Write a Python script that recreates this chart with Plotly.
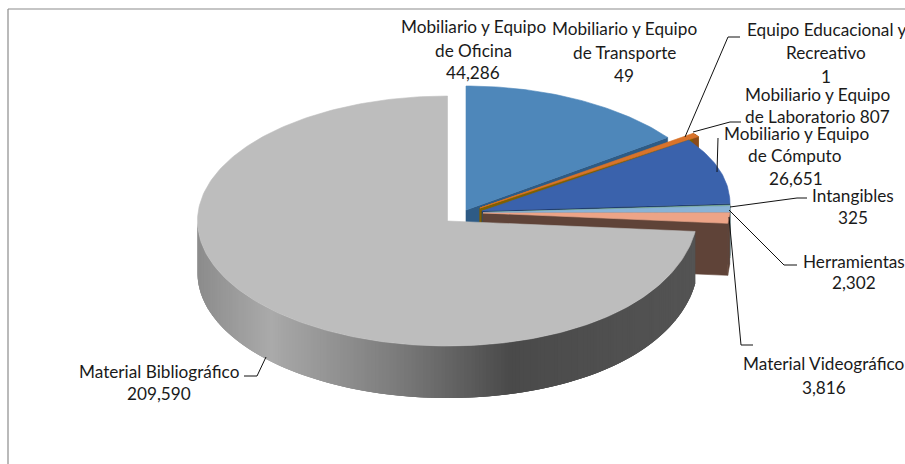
import math
import plotly.graph_objects as go

# ---------- data ----------
categories = ["Mobiliario y Equipo de Oficina", "Mobiliario y Equipo de Transporte",
              "Equipo Educacional y Recreativo", "Mobiliario y Equipo de Laboratorio",
              "Mobiliario y Equipo de Cómputo", "Intangibles", "Herramientas",
              "Material Videográfico", "Material Bibliográfico"]
values = [44286, 49, 1, 807, 26651, 325, 2302, 3816, 209590]

# ---------- slice styling / placement (pixel space of the chart) ----------
top_colors = ["#4E87BA", "#D9732A", "#D9732A", "#D9732A", "#3A62AC",
              "#7FB08F", "#8AB3D6", "#EDA487", "#BDBDBD"]
cut_colors = ["#2E5B85", "#7F6000", "#7F6000", "#7F6000", "#152F5C",
              "#3F6F55", "#4A6F90", "#5F4338", None]
arc_colors = [None, "#8B4A1A", "#8B4A1A", "#8B4A1A", None, None, None, "#5F4338", None]
apex_x = [466, 480, 480, 480, 482, 483, 483, 483, 447.5]
apex_y = [210, 208, 208, 208, 211, 212.5, 212.5, 213, 221]
radius_x = [245, 262, 262, 262, 248, 247, 247, 247, 250]
radius_y = [124, 125, 125, 125, 124, 124, 124, 124, 125]
# the perspective of the original opens the very thin slice a little
open_start_deg = [0, 0, 0, 1.0, 0, 0, 0, 0, 0]
DEPTH = 52
TILT = 7


def project(i, theta, drop=0):
    s, c = math.sin(theta), math.cos(theta)
    tilt = TILT * max(s, 0) ** 6
    return (apex_x[i] + radius_x[i] * s,
            apex_y[i] - radius_y[i] * c - tilt + drop)


def arc(i, a, b, drop=0):
    n = max(2, int(abs(b - a) / math.radians(1.0)) + 2)
    return [project(i, a + (b - a) * k / (n - 1), drop) for k in range(n)]


def poly(fig, pts, color, lw=0.6):
    fig.add_trace(go.Scatter(x=[p[0] for p in pts] + [pts[0][0]],
                             y=[p[1] for p in pts] + [pts[0][1]],
                             mode="lines", fill="toself", fillcolor=color,
                             line=dict(color=color, width=lw),
                             hoverinfo="skip", showlegend=False))


def gray_wall_color(x):
    stops = [(198, 140), (270, 170), (400, 122), (510, 74), (700, 84)]
    for (x0, v0), (x1, v1) in zip(stops, stops[1:]):
        if x <= x1:
            t = max(0, (x - x0) / (x1 - x0))
            v = round(v0 + (v1 - v0) * t)
            return f"rgb({v},{v},{v})"
    return "rgb(84,84,84)"


fig = go.Figure()
total = sum(values)
cum = 0
angles = []
for v in values:
    angles.append((cum / total * 2 * math.pi, (cum + v) / total * 2 * math.pi))
    cum += v

for i, (a, b) in enumerate(angles):
    a = a - math.radians(open_start_deg[i])
    if cut_colors[i]:
        e0, e1 = project(i, b), project(i, b, DEPTH)
        ap = (apex_x[i], apex_y[i])
        poly(fig, [ap, e0, e1, (ap[0], ap[1] + DEPTH)], cut_colors[i])
    if arc_colors[i]:
        poly(fig, arc(i, a, b) + arc(i, b, a, DEPTH), arc_colors[i])
    if i == len(values) - 1:
        # outer wall of the large slice, shaded along its length (left to right);
        # each strip runs on under the next one so that no seam shows
        start, end = 3 * math.pi / 2, a
        n = 200
        for k in range(n):
            t0 = start + (end - start) * k / n
            t1 = start + (end - start) * (k + 3) / n
            t1 = max(t1, end)
            mid = project(i, start + (end - start) * (k + 0.5) / n)
            p0, p1 = project(i, t0), project(i, t1)
            p2, p3 = project(i, t1, DEPTH), project(i, t0, DEPTH)
            poly(fig, [p0, p1, p2, p3], gray_wall_color(mid[0]), 0)
    poly(fig, [(apex_x[i], apex_y[i])] + arc(i, a, b), top_colors[i])

# ---------- labels ----------
fmt = [f"{v:,}" for v in values]
label_rows = [
    (473, 26, "Mobiliario y Equipo"), (473, 50, "de Oficina"), (473, 72, fmt[0]),
    (624, 28, "Mobiliario y Equipo"), (624, 52, "de Transporte"), (624, 75, fmt[1]),
    (826, 29, "Equipo Educacional y"), (826, 52, "Recreativo"), (826, 76, fmt[2]),
    (817, 94, "Mobiliario y Equipo"), (817, 116, "de Laboratorio " + fmt[3]),
    (796, 133, "Mobiliario y Equipo"), (795, 155, "de Cómputo"), (796, 178, fmt[4]),
    (853, 195, "Intangibles"), (853, 217, fmt[5]),
    (854, 261, "Herramientas"), (854, 282, fmt[6]),
    (824, 363, "Material Videográfico"), (824, 387, fmt[7]),
    (159, 371, "Material Bibliográfico"), (159, 393, fmt[8]),
]
annotations = [dict(x=x, y=y, text=t, showarrow=False, xref="x", yref="y",
                    xanchor="center", yanchor="middle",
                    font=dict(family="Lato", size=17.2, color="#1a1a1a"))
               for x, y, t in label_rows]

leaders = [
    [(685, 137), (728, 37), (740, 37)],
    [(693, 132), (730, 122), (741, 122)],
    [(717, 172), (718, 138)],
    [(730, 207), (797, 198), (807, 198)],
    [(729, 210), (784, 265), (797, 265)],
    [(729, 217), (741, 345), (753, 345)],
    [(266, 357), (257, 376), (244, 376)],
]
for path in leaders:
    fig.add_trace(go.Scatter(x=[p[0] for p in path], y=[p[1] for p in path],
                             mode="lines", line=dict(color="#111111", width=1),
                             hoverinfo="skip", showlegend=False))

frame = [dict(type="line", x0=8, y0=9, x1=905, y1=9, line=dict(color="#8C8C8C", width=1.2)),
         dict(type="line", x0=8, y0=9, x1=8, y1=464, line=dict(color="#8C8C8C", width=1.2))]

fig.update_layout(width=905, height=464, margin=dict(l=0, r=0, t=0, b=0),
                  paper_bgcolor="white", plot_bgcolor="white", showlegend=False,
                  annotations=annotations, shapes=frame,
                  xaxis=dict(range=[0, 905], visible=False, fixedrange=True),
                  yaxis=dict(range=[464, 0], visible=False, fixedrange=True))

fig.write_html("out.html", config={"displayModeBar": False},
               post_script="document.body.style.margin='0';document.documentElement.style.overflow='hidden';")
